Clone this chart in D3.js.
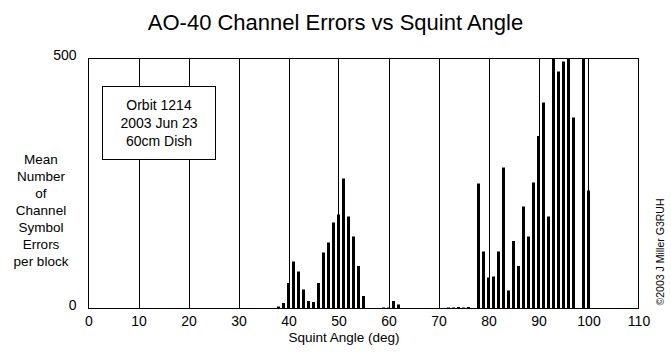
<!DOCTYPE html>
<html>
<head>
<meta charset="utf-8">
<script src="https://cdn.jsdelivr.net/npm/d3@7"></script>
<style>
  html, body { margin: 0; padding: 0; background: #fff; }
  svg { display: block; font-family: "Liberation Sans", Arial, Helvetica, sans-serif; }
</style>
</head>
<body>
<svg id="chart" width="671" height="355"></svg>
<script>
// ---- data ----
const angles = [38,39,40,41,42,43,44,45,46,47,48,49,50,51,52,53,54,55,
                59,60,61,62,
                72,73,74,75,76,
                78,79,80,81,82,83,84,85,86,87,88,89,90,91,92,93,94,95,96,97,99,100];
const errors = [4,11,51,94,74,38,15,13,51,112,132,172,188,260,184,144,85,25,
                2,2,15,8,
                2,2,3,2,3,
                250,114,62,64,114,282,36,135,85,204,144,252,345,412,184,500,474,494,500,382,500,236];
const xTicks = [0,10,20,30,40,50,60,70,80,90,100,110];
const yTicks = [0,500];
const gridLines = [10,20,30,40,50,60,70,80,90,100];
const title = "AO-40 Channel Errors vs Squint Angle";
const xTitle = "Squint Angle (deg)";
const yTitleLines = ["Mean","Number","of","Channel","Symbol","Errors","per block"];
const boxLines = ["Orbit 1214","2003 Jun 23","60cm Dish"];
const credit = "\u00A92003 J Miller G3RUH";

// ---- layout ----
const W = 671;
const svg = d3.select("#chart");
const L = 88.5, R = 638.5, T = 58.5, B = 308.5;
const x = d3.scaleLinear().domain([0,110]).range([L,R]);
const y = d3.scaleLinear().domain([0,500]).range([B,T]).clamp(true);
const barW = x(0.6) - x(0);

// title (centred on the page)
svg.append("text").attr("x", W/2).attr("y", 30)
  .attr("text-anchor","middle").attr("font-size", 22).text(title);

// grid lines
svg.append("g").selectAll("line").data(gridLines).join("line")
  .attr("x1", d => Math.round(x(d)) + 0.5).attr("x2", d => Math.round(x(d)) + 0.5)
  .attr("y1", T).attr("y2", B)
  .attr("stroke","#000").attr("stroke-width",1);

// bars
svg.append("g").selectAll("rect").data(angles).join("rect")
  .attr("x", (d) => x(d) - barW/2)
  .attr("width", barW)
  .attr("y", (d,i) => y(errors[i]))
  .attr("height", (d,i) => B - y(errors[i]))
  .attr("fill","#000");

// frame
svg.append("rect").attr("x", L).attr("y", T).attr("width", R-L).attr("height", B-T)
  .attr("fill","none").attr("stroke","#000").attr("stroke-width",1);

// x axis labels (no tick marks)
const xAxis = d3.axisBottom(x).tickValues(xTicks).tickSize(0).tickPadding(8);
const gx = svg.append("g").attr("transform", `translate(0,${B})`).call(xAxis);
gx.select(".domain").remove();
gx.selectAll("text").attr("font-size", 14).attr("font-family","Liberation Sans, Arial, sans-serif").attr("fill","#000");

// y axis labels
const yAxis = d3.axisLeft(y).tickValues(yTicks).tickSize(0).tickPadding(12);
const gy = svg.append("g").attr("transform", `translate(${L},0)`).call(yAxis);
gy.select(".domain").remove();
gy.selectAll("text").attr("font-size", 14).attr("font-family","Liberation Sans, Arial, sans-serif")
  .attr("fill","#000").attr("dy", "0.1em");

// x title
svg.append("text").attr("x", 344).attr("y", 342)
  .attr("text-anchor","middle").attr("font-size", 13.5).text(xTitle);

// y title
svg.append("g").selectAll("text").data(yTitleLines).join("text")
  .attr("x", 41).attr("y", (d,i) => 164 + i*17)
  .attr("text-anchor","middle").attr("font-size", 13.5).text(d => d);

// annotation box
svg.append("rect").attr("x", 102.5).attr("y", 86.5).attr("width", 113).attr("height", 73)
  .attr("fill","#fff").attr("stroke","#000").attr("stroke-width",1);
svg.append("g").selectAll("text").data(boxLines).join("text")
  .attr("x", 159).attr("y", (d,i) => 110 + i*18)
  .attr("text-anchor","middle").attr("font-size", 14).text(d => d);

// credit
svg.append("text").attr("transform", "translate(664,252) rotate(-90)")
  .attr("text-anchor","middle").attr("font-size", 10.5).text(credit);
</script>
</body>
</html>
